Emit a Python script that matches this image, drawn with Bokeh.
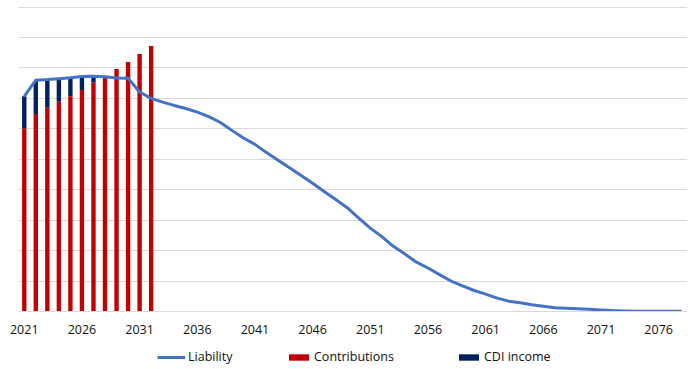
from bokeh.plotting import figure
from bokeh.layouts import column
from bokeh.models import Range1d, FixedTicker, Grid, Legend, LegendItem, ColumnDataSource
from bokeh.embed import file_html
from bokeh.resources import INLINE

years = list(range(2021, 2079))
liability = [7.07, 7.60, 7.62, 7.65, 7.68, 7.72, 7.73, 7.71, 7.67, 7.66,
             7.21, 7.00, 6.88, 6.77, 6.67, 6.55, 6.40, 6.21, 5.95, 5.70,
             5.49, 5.22, 4.97, 4.72, 4.47, 4.21, 3.94, 3.68, 3.41, 3.07,
             2.74, 2.46, 2.14, 1.89, 1.62, 1.43, 1.21, 1.00, 0.84, 0.69,
             0.57, 0.44, 0.34, 0.29, 0.22, 0.17, 0.12, 0.11, 0.09, 0.07,
             0.05, 0.03, 0.02, 0.01, 0.01, 0.01, 0.01, 0.01]
bar_years = list(range(2021, 2033))
contributions = [6.02, 6.49, 6.69, 6.89, 7.07, 7.28, 7.52, 7.68, 7.97, 8.20, 8.46, 8.72]
cdi_income = [1.05, 1.08, 0.91, 0.74, 0.59, 0.42, 0.18, 0.0, 0.0, 0.0, 0.0, 0.0]
tick_years = list(range(2021, 2077, 5))
series_names = ["Liability", "Contributions", "CDI income"]
series_colors = ["#4472C4", "#C00000", "#002060"]

FONT = "Open Sans"
TXT = "#111111"

p = figure(width=687, height=341, output_backend="svg", toolbar_location=None,
           x_range=Range1d(2020.5, 2078.5), y_range=Range1d(0, 10.02),
           y_axis_location=None, min_border_left=18, min_border_right=0,
           min_border_top=6, min_border_bottom=30)
p.outline_line_color = None
p.xgrid.grid_line_color = None
p.add_layout(Grid(dimension=1, ticker=FixedTicker(ticks=list(range(0, 11))),
                  grid_line_color="#d9d9d9", grid_line_width=1))

src = ColumnDataSource(dict(x=bar_years, contributions=contributions, cdi=cdi_income))
p.vbar_stack(["contributions", "cdi"], x="x", width=0.38, source=src,
             color=series_colors[1:], line_color=None)
p.line(years, liability, line_color=series_colors[0], line_width=3, line_join="round")

ax = p.xaxis[0]
ax.ticker = FixedTicker(ticks=tick_years)
ax.axis_line_color = "#d9d9d9"
ax.major_tick_line_color = None
ax.minor_tick_line_color = None
ax.major_label_text_font = FONT
ax.major_label_text_font_size = "12.5px"
ax.major_label_text_color = TXT
ax.major_label_standoff = 7

# legend strip (dummy zero-size renderers only provide legend swatches)
q = figure(width=687, height=26, output_backend="svg", toolbar_location=None,
           x_range=Range1d(0, 687), y_range=Range1d(0, 26),
           x_axis_location=None, y_axis_location=None,
           min_border_left=0, min_border_right=0, min_border_top=0, min_border_bottom=0)
q.outline_line_color = None
q.xgrid.visible = False
q.ygrid.visible = False
r_line = q.line([-400, -400], [-50, -50], line_color=series_colors[0], line_width=3)
r_c = q.vbar(x=[-400], top=[-50], bottom=[-50], width=0.01, color=series_colors[1], line_color=None)
r_d = q.vbar(x=[-400], top=[-50], bottom=[-50], width=0.01, color=series_colors[2], line_color=None)

def mk_legend(item, vx, gw):
    lg = Legend(items=[item], location=(vx, 2), orientation="horizontal",
                padding=0, margin=0, spacing=0, border_line_color=None,
                background_fill_alpha=0, glyph_width=gw, glyph_height=8,
                label_height=8, label_standoff=3,
                label_text_font=FONT, label_text_font_size="12.5px",
                label_text_color=TXT)
    q.add_layout(lg)

mk_legend(LegendItem(label=series_names[0], renderers=[r_line]), 139, 28)
mk_legend(LegendItem(label=series_names[1], renderers=[r_c]), 268, 25)
mk_legend(LegendItem(label=series_names[2], renderers=[r_d]), 438, 25)

layout = column(p, q, spacing=0)
open("out.html", "w").write(file_html(layout, INLINE))
